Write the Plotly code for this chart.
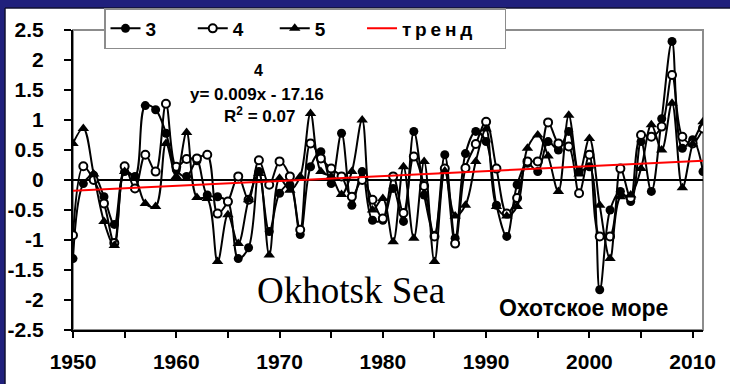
import plotly.graph_objects as go

years = list(range(1950, 2012))

s3 = [-1.31, -0.06, 0.08, -0.28, -0.74, 0.14, 0.06, 1.24, 1.17, 0.78,
      0.17, 0.06, 0.32, -0.25, -0.28, -0.36, -1.31, -1.13, 0.14, -0.86,
      -0.22, -0.08, -0.91, 0.22, 0.47, -0.06, 0.78, -0.42, 0.14, -0.67,
      -0.67, -0.14, -0.69, 0.81, -0.25, -0.92, 0.42, -0.97, 0.44, 0.81,
      0.64, -0.42, -0.94, -0.08, 0.28, 0.14, 0.64, 0.50, 0.81, 0.14,
      0.22, -1.83, -0.50, -0.19, -0.36, 0.64, -0.19, 1.02, 2.31, 0.53,
      0.67, 0.14]

s4 = [-0.92, 0.23, 0.00, -0.39, -1.05, 0.23, -0.14, 0.42, 0.14, 1.27,
      0.22, 0.35, 0.36, 0.42, -0.56, -0.36, 0.06, -0.33, 0.33, -0.08,
      0.31, 0.06, -0.83, 0.61, 0.36, 0.19, 0.06, -0.28, 0.00, -0.33,
      -0.64, 0.06, -0.55, 0.39, -0.10, -0.94, 0.19, -1.06, 0.20, 0.60,
      0.97, 0.19, -0.56, -0.30, 0.31, 0.31, 0.96, 0.61, 0.56, -0.22,
      0.42, -0.94, -0.94, 0.19, -0.30, 0.75, 0.72, 0.89, 1.75, 0.72,
      0.61, 0.86]

s5 = [0.61, 0.86, 0.10, -0.69, -1.09, 0.14, 0.03, -0.39, -0.44, 0.61,
      0.06, 0.79, -0.29, -0.31, -1.36, -0.58, -1.06, -0.33, 0.11, -1.25,
      0.03, -0.17, 0.06, 1.11, 0.14, 0.06, -0.24, 0.14, 1.00, -0.50,
      -0.31, -1.03, 0.22, -0.97, 0.31, -1.36, 0.15, -0.60, -0.42, 0.31,
      0.85, -0.44, -0.60, -0.44, 0.53, 0.75, 0.40, -0.19, 1.08, 0.10,
      0.69, -0.42, -1.31, -0.28, -0.25, 0.19, 0.92, 0.50, 1.28, -0.13,
      0.60, 0.97]

trend_years = [1950, 2011]
trend_vals = [-0.18, 0.32]

y_ticks = [2.5, 2, 1.5, 1, 0.5, 0, -0.5, -1, -1.5, -2, -2.5]
y_ticktext = ["2.5", "2", "1.5", "1", "0.5", "0", "-0.5", "-1", "-1.5", "-2", "-2.5"]
x_ticks = [1950, 1960, 1970, 1980, 1990, 2000, 2010]

FONT = "Liberation Sans, Arial, sans-serif"
BLUE = "#20207c"
W, H = 730, 384
ML, MR, MT, MB = 73, 27, 30, 54
PW, PH = W - ML - MR, H - MT - MB
NB = "\u00a0"
TS = "\u2009"


def px(x):
    return (x - ML) / PW


def py(y):
    return (H - MB - y) / PH


fig = go.Figure()
fig.add_trace(go.Scatter(
    x=years, y=s3, name="<b>3</b>" + NB * 6, mode="lines+markers",
    line=dict(color="black", width=2, shape="spline", smoothing=1),
    marker=dict(symbol="circle", size=9, color="black")))
fig.add_trace(go.Scatter(
    x=years, y=s4, name="<b>4</b>" + NB * 5, mode="lines+markers",
    line=dict(color="black", width=2, shape="spline", smoothing=1),
    marker=dict(symbol="circle", size=8, color="white",
                line=dict(color="black", width=2))))
fig.add_trace(go.Scatter(
    x=years, y=s5, name="<b>5</b>" + NB * 6, mode="lines+markers",
    line=dict(color="black", width=2, shape="spline", smoothing=1),
    marker=dict(symbol="triangle-up", size=10, color="black")))
fig.add_trace(go.Scatter(
    x=trend_years, y=trend_vals, name="<b>" + TS.join("тренд") + "</b>" + NB * 5,
    mode="lines", line=dict(color="red", width=2)))

shapes = [
    # blue slide strips (top and left), drawn outside the plot area
    dict(type="rect", xref="paper", yref="paper", x0=px(0), x1=px(W),
         y0=py(8), y1=py(0), fillcolor=BLUE, line_width=0, layer="above"),
    dict(type="rect", xref="paper", yref="paper", x0=px(0), x1=px(5),
         y0=py(H), y1=py(0), fillcolor=BLUE, line_width=0, layer="above"),
    dict(type="line", xref="paper", yref="paper", x0=px(5), x1=px(W),
         y0=py(8), y1=py(8), line=dict(color="#101030", width=1.5), layer="above"),
    dict(type="line", xref="paper", yref="paper", x0=px(5), x1=px(5),
         y0=py(8), y1=py(H), line=dict(color="#101030", width=1.5), layer="above"),
    # gray plot frame
    dict(type="rect", xref="paper", yref="paper", x0=0, x1=1, y0=0, y1=1,
         line=dict(color="#8c8c8c", width=2), fillcolor="rgba(0,0,0,0)", layer="below"),
]

annotations = [
    dict(x=1968.0, y=1.82, text="<b>4</b>", showarrow=False,
         font=dict(family=FONT, size=16, color="black")),
    dict(x=1967.8, y=1.43, text="<b>y= 0.009x - 17.16</b>", showarrow=False,
         font=dict(family=FONT, size=17, color="black")),
    dict(x=1968.1, y=1.08, text="<b>R<sup>2</sup> = 0.07</b>", showarrow=False,
         font=dict(family=FONT, size=17, color="black")),
    dict(x=1976.9, y=-1.84, text="Okhotsk Sea", showarrow=False,
         font=dict(family="Liberation Serif, Times New Roman, serif", size=37, color="black")),
    dict(x=1999.4, y=-2.13, text="<b>Охотское море</b>", showarrow=False,
         font=dict(family=FONT, size=23, color="black")),
]

fig.update_layout(
    width=W, height=H,
    margin=dict(l=ML, r=MR, t=MT, b=MB, pad=0, autoexpand=False),
    paper_bgcolor="white", plot_bgcolor="white",
    showlegend=True,
    legend=dict(orientation="h", xref="container", yref="container",
                x=104 / W, y=1 - 8 / H, xanchor="left", yanchor="top",
                bgcolor="white", bordercolor="#8c8c8c", borderwidth=1.5,
                font=dict(family=FONT, size=19, color="black"),
                itemwidth=30, traceorder="normal"),
    shapes=shapes,
    annotations=annotations,
    xaxis=dict(range=[1950, 2011], tickvals=x_ticks, ticks="outside", ticklen=6,
               tickwidth=1.5, tickcolor="black",
               minor=dict(dtick=5, tick0=1950, ticks="outside", ticklen=6,
                          tickwidth=1.5, tickcolor="black"),
               showgrid=False, zeroline=False, showline=True, linecolor="black",
               linewidth=2, automargin=False,
               tickfont=dict(family=FONT, size=21, color="black", weight="bold"),
               ticklabelstandoff=6),
    yaxis=dict(range=[-2.5, 2.5], tickvals=y_ticks, ticktext=y_ticktext,
               ticks="outside", ticklen=7, tickwidth=1.5, tickcolor="black",
               showgrid=False, zeroline=True, zerolinecolor="black", zerolinewidth=2,
               showline=True, linecolor="black", linewidth=2, automargin=False,
               ticklabelstandoff=16,
               tickfont=dict(family=FONT, size=21, color="black", weight="bold")),
    font=dict(family=FONT, color="black"),
)

fig.write_html("out.html")
